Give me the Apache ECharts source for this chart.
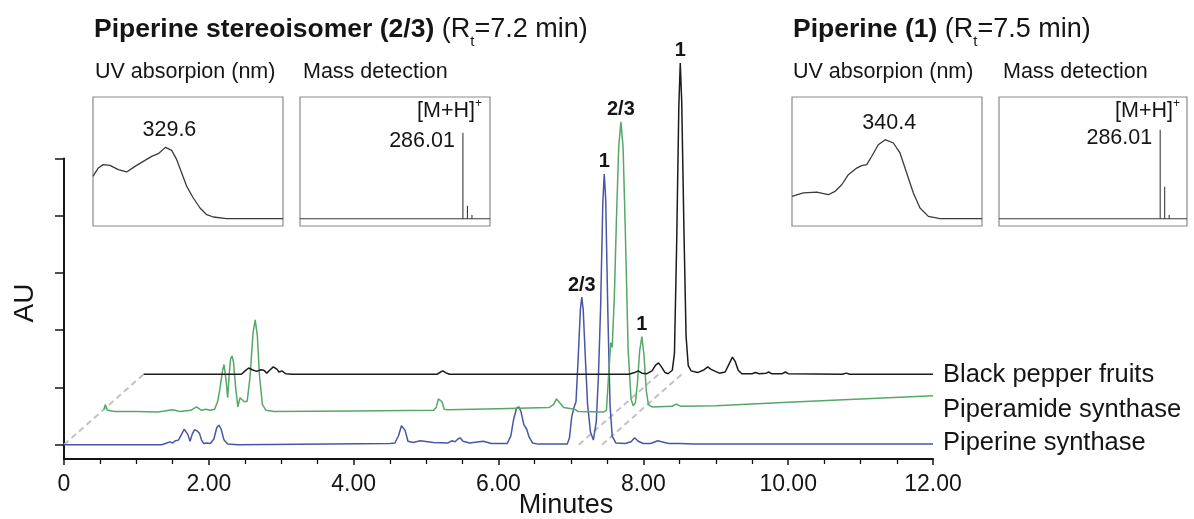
<!DOCTYPE html>
<html>
<head>
<meta charset="utf-8">
<script src="https://cdn.jsdelivr.net/npm/echarts@6/dist/echarts.min.js"></script>
<style>
  html, body { margin: 0; padding: 0; background: #fff; }
  #chart { width: 1194px; height: 519px; }
</style>
</head>
<body>
<div id="chart"></div>
<script>
// ---------- data ----------
const xTickValues = [0, 2, 4, 6, 8, 10, 12];
const xTickLabels = ['0', '2.00', '4.00', '6.00', '8.00', '10.00', '12.00'];
const yTickValues = [0, 1, 2, 3, 4, 5];

const sampleNames = ['Piperine synthase', 'Piperamide synthase', 'Black pepper fruits'];

// [retention time (min), absorbance (AU)] for each sample
const piperineSynthase = [
  [0.00,0.00],[1.35,0.00],[1.42,0.03],[1.46,0.05],[1.50,0.03],[1.54,0.07],[1.58,0.08],[1.62,0.17],
  [1.66,0.27],[1.68,0.28],[1.71,0.18],[1.74,0.06],[1.77,0.18],[1.80,0.26],[1.83,0.25],[1.87,0.20],
  [1.90,0.08],[1.93,0.02],[1.97,0.03],[2.02,0.02],[2.07,0.10],[2.11,0.30],[2.14,0.34],[2.17,0.27],
  [2.21,0.08],[2.26,0.01],[2.40,0.00],[4.50,0.02],[4.57,0.03],[4.62,0.16],[4.66,0.33],[4.68,0.35],
  [4.71,0.25],[4.75,0.06],[4.82,0.04],[4.92,0.07],[5.10,0.04],[5.30,0.03],[5.36,0.07],[5.40,0.05],
  [5.44,0.10],[5.47,0.12],[5.51,0.06],[5.60,0.03],[5.79,0.06],[5.90,0.02],[6.12,0.02],[6.17,0.15],
  [6.21,0.45],[6.25,0.64],[6.28,0.66],[6.31,0.58],[6.35,0.35],[6.39,0.27],[6.42,0.14],[6.47,0.03],
  [6.55,0.01],[6.95,0.01],[6.98,0.12],[7.01,0.48],[7.04,0.64],[7.07,0.75],[7.10,1.50],[7.13,2.35],
  [7.15,2.58],[7.17,2.35],[7.20,1.50],[7.23,0.70],[7.27,0.22],[7.31,0.08],[7.35,0.40],[7.38,1.20],
  [7.41,2.40],[7.44,4.20],[7.46,4.73],[7.48,4.30],[7.51,2.30],[7.54,0.70],[7.57,0.15],[7.62,0.03],
  [7.75,0.02],[7.83,0.05],[7.88,0.12],[7.93,0.06],[8.00,0.02],[8.10,0.02],[8.20,0.07],[8.25,0.05],
  [8.35,0.02],[8.50,0.02],[8.70,0.01],[12.00,0.01]
];

const piperamideSynthase = [
  [0.00,0.00],[0.02,0.09],[0.05,-0.01],[0.15,-0.03],[0.45,-0.03],[0.75,-0.04],[0.90,-0.01],[0.95,0.00],
  [1.05,-0.03],[1.20,-0.01],[1.28,0.05],[1.35,-0.01],[1.41,0.01],[1.47,-0.01],[1.53,0.01],[1.57,0.14],
  [1.60,0.34],[1.64,0.69],[1.66,0.79],[1.69,0.49],[1.71,0.21],[1.73,0.59],[1.75,0.89],[1.77,0.94],
  [1.79,0.84],[1.82,0.39],[1.85,0.05],[1.88,0.21],[1.90,0.23],[1.94,0.14],[1.98,0.15],[2.02,0.59],
  [2.06,1.34],[2.09,1.57],[2.12,1.29],[2.15,0.59],[2.19,0.09],[2.24,-0.01],[2.35,-0.03],[3.45,-0.02],
  [4.55,-0.01],[4.59,0.04],[4.62,0.19],[4.64,0.21],[4.67,0.14],[4.70,0.01],[4.75,0.00],[5.45,0.02],
  [6.15,0.04],[6.21,0.09],[6.25,0.19],[6.29,0.13],[6.35,0.04],[6.50,0.01],[6.55,-0.03],[6.90,-0.04],
  [6.94,-0.01],[6.97,0.59],[7.00,1.17],[7.02,1.09],[7.05,1.99],[7.08,3.39],[7.11,4.59],[7.14,5.03],
  [7.17,4.59],[7.20,3.19],[7.24,1.05],[7.28,0.19],[7.31,0.07],[7.34,0.12],[7.37,0.49],[7.40,1.04],
  [7.43,1.28],[7.46,0.94],[7.49,0.34],[7.52,0.09],[7.57,0.05],[7.85,0.06],[7.90,0.10],[7.97,0.06],
  [8.45,0.07],[9.45,0.13],[10.45,0.19],[11.45,0.245]
];

const blackPepperFruits = [
  [0.00,0.00],[0.01,0.03],[0.03,0.00],[0.90,0.00],[1.35,0.00],[1.40,0.06],[1.45,0.11],[1.50,0.08],
  [1.56,0.05],[1.62,0.08],[1.66,0.07],[1.70,0.02],[1.74,0.07],[1.79,0.13],[1.84,0.09],[1.87,0.04],
  [1.91,0.06],[1.96,0.01],[2.05,0.00],[4.05,0.00],[4.10,0.04],[4.13,0.06],[4.17,0.03],[4.22,0.00],
  [6.70,0.00],[6.78,0.03],[6.83,0.06],[6.88,0.02],[6.95,0.01],[7.02,0.06],[7.07,0.16],[7.11,0.20],
  [7.15,0.13],[7.20,0.03],[7.24,0.01],[7.30,0.07],[7.33,0.37],[7.36,2.27],[7.39,4.67],[7.41,5.44],
  [7.43,4.77],[7.46,2.57],[7.49,0.67],[7.52,0.15],[7.56,0.06],[7.65,0.03],[7.74,0.08],[7.79,0.13],
  [7.83,0.09],[7.88,0.06],[7.95,0.02],[8.03,0.04],[8.08,0.17],[8.13,0.30],[8.17,0.22],[8.21,0.07],
  [8.26,0.01],[8.40,0.01],[8.45,0.03],[8.50,0.01],[8.60,0.02],[8.63,0.04],[8.67,0.01],[8.82,0.01],
  [8.86,0.04],[8.90,0.01],[9.65,0.00],[9.70,0.02],[9.75,0.00],[10.90,0.00]
];

// [sample index, retention time (min), compound]
const peakLabels = [
  [0, 7.15, '2/3'], [0, 7.46, '1'],
  [1, 7.14, '2/3'], [1, 7.43, '1'],
  [2, 7.41, '1']
];

// retention times joined across the stacked traces by dashed guides
const guideTimes = [0, 7.11, 7.43];

// UV spectra: [wavelength (nm), relative absorbance]
const uvStereoisomer = [
  [200,0.348],[209.5,0.417],[218.4,0.444],[230.4,0.438],[245.3,0.403],[260.3,0.384],[275.2,0.430],
  [290,0.471],[305,0.512],[316.9,0.534],[329.6,0.586],[340.8,0.561],[349.8,0.485],[358.7,0.376],
  [367.7,0.266],[379.5,0.170],[391.5,0.088],[403.5,0.033],[415.3,0.014],[439.2,0.000],[540,0.000]
];
const uvPiperine = [
  [230,0.183],[243.4,0.212],[259.3,0.218],[273,0.197],[281,0.225],[288.9,0.279],[296.7,0.362],
  [306.6,0.416],[312.5,0.436],[318.5,0.444],[324.4,0.513],[332.2,0.608],[340.4,0.649],[350,0.622],
  [357.9,0.540],[365.8,0.376],[373.7,0.211],[381.6,0.088],[391.5,0.019],[405.3,0.000],[455,0.000]
];

// mass spectra: [m/z, relative intensity]
const msStereoisomer = [[286.01, 0.707], [287.01, 0.107], [288.01, 0.030]];
const msPiperine = [[286.01, 0.730], [287.01, 0.263], [288.01, 0.030]];

// ---------- layout & style ----------
const FONT = '"Liberation Sans", Arial, Helvetica, sans-serif';
const INK = '#151515';

// horizontal / vertical shift of each trace in the stacked view
const stackShift = [{ dx: 0, dy: 0 }, { dx: 0.55, dy: 0.61 }, { dx: 1.10, dy: 1.23 }];
const traceColors = ['#4757a5', '#56a866', '#1c1c1c'];
const traces = [piperineSynthase, piperamideSynthase, blackPepperFruits];

const shifted = traces.map((tr, i) =>
  tr.map(([t, v]) => [t + stackShift[i].dx, v + stackShift[i].dy]));

const topShift = stackShift[2];

const insetBoxes = [
  { left: 93, top: 97, width: 190, height: 129 },
  { left: 300, top: 97, width: 190, height: 129 },
  { left: 792, top: 97, width: 190, height: 129 },
  { left: 999, top: 97, width: 188, height: 129 }
];
const uvRanges = [[200, 540], [230, 455]];
const msRange = [250, 292];

function stickSpectrum(peaks) {
  const pts = [[msRange[0], 0]];
  peaks.forEach(([mz, h]) => { pts.push([mz, 0], [mz, h], [mz, 0]); });
  pts.push([msRange[1], 0]);
  return pts;
}

const chart = echarts.init(document.getElementById('chart'), null, { renderer: 'canvas' });

const grids = [
  { left: 64, right: 261, top: 158.5, bottom: 60, show: false }
].concat(insetBoxes.map(b => ({
  left: b.left, top: b.top, width: b.width, height: b.height,
  show: true, borderColor: '#8a8a8a', borderWidth: 1.2, backgroundColor: 'transparent'
})));

const xAxes = [{
  type: 'value', gridIndex: 0, min: 0, max: 12, interval: 2,
  axisLine: { show: true, onZero: false, lineStyle: { color: INK, width: 2 } },
  axisTick: { show: true, length: 6, lineStyle: { color: INK, width: 1.5 } },
  minorTick: { show: true, splitNumber: 4, length: 5, lineStyle: { color: INK, width: 1.3 } },
  splitLine: { show: false },
  axisLabel: {
    fontFamily: FONT, fontSize: 23, color: INK, margin: 14,
    formatter: v => { const i = xTickValues.indexOf(v); return i >= 0 ? xTickLabels[i] : ''; }
  }
}];
const yAxes = [{
  type: 'value', gridIndex: 0, min: -0.25, max: 5,
  axisLine: { show: true, onZero: false, lineStyle: { color: INK, width: 2 } },
  axisTick: { show: true, length: 9, customValues: yTickValues, lineStyle: { color: INK, width: 1.5 } },
  axisLabel: { show: false },
  splitLine: { show: false }
}];
[uvRanges[0], msRange, uvRanges[1], msRange].forEach((r, i) => {
  xAxes.push({ type: 'value', gridIndex: i + 1, min: r[0], max: r[1], show: false, splitLine: { show: false } });
  yAxes.push({ type: 'value', gridIndex: i + 1, min: -0.06, max: 1, show: false, splitLine: { show: false } });
});

const series = [];
guideTimes.forEach(t => {
  series.push({
    type: 'line', xAxisIndex: 0, yAxisIndex: 0, silent: true, symbol: 'none', clip: false, z: 1,
    data: [[t, 0], [t + topShift.dx, topShift.dy]],
    lineStyle: { color: '#c2c2c2', width: 2, type: [6, 4] }
  });
});
shifted.forEach((data, i) => {
  series.push({
    name: sampleNames[i], type: 'line', xAxisIndex: 0, yAxisIndex: 0,
    data, symbol: 'none', clip: false, z: 2 + i, animation: false,
    lineStyle: { color: traceColors[i], width: 1.5 }
  });
});
[uvStereoisomer, stickSpectrum(msStereoisomer), uvPiperine, stickSpectrum(msPiperine)].forEach((data, i) => {
  series.push({
    type: 'line', xAxisIndex: i + 1, yAxisIndex: i + 1, data, symbol: 'none', animation: false,
    lineStyle: { color: '#3a3a3a', width: i % 2 ? 1.1 : 1.3 }
  });
});

chart.setOption({
  animation: false,
  backgroundColor: '#ffffff',
  grid: grids,
  xAxis: xAxes,
  yAxis: yAxes,
  series
});

// ---------- text ----------
function txt(x, y, text, opts) {
  return {
    type: 'text', x, y, silent: true, z: 50,
    style: Object.assign({
      text, fill: INK, fontFamily: FONT, fontSize: 21.5,
      align: 'left', verticalAlign: 'middle'
    }, opts || {})
  };
}

const titleRich = {
  b: { fontWeight: 'bold', fontSize: 26.5, lineHeight: 38, fontFamily: FONT, fill: INK },
  n: { fontSize: 27, lineHeight: 38, fontFamily: FONT, fill: INK },
  s: { fontSize: 15, lineHeight: 15, verticalAlign: 'bottom', fontFamily: FONT, fill: INK }
};
const ionRich = {
  n: { fontSize: 21.5, lineHeight: 26, fontFamily: FONT, fill: INK },
  p: { fontSize: 12, lineHeight: 12, verticalAlign: 'top', fontFamily: FONT, fill: INK }
};

const graphics = [
  txt(94, 11, '{b|Piperine stereoisomer (2/3)}{n| (R}{s|t}{n|=7.2 min)}', { verticalAlign: 'top', rich: titleRich }),
  txt(793, 11, '{b|Piperine (1)}{n| (R}{s|t}{n|=7.5 min)}', { verticalAlign: 'top', rich: titleRich }),
  txt(95, 72, 'UV absorpion (nm)'),
  txt(303, 72, 'Mass detection'),
  txt(793, 72, 'UV absorpion (nm)'),
  txt(1003, 72, 'Mass detection'),
  txt(482, 98, '{n|[M+H]}{p|+}', { align: 'right', verticalAlign: 'top', rich: ionRich }),
  txt(1180, 98, '{n|[M+H]}{p|+}', { align: 'right', verticalAlign: 'top', rich: ionRich }),
  txt(943, 375, sampleNames[2], { fontSize: 25.5 }),
  txt(943, 410, sampleNames[1], { fontSize: 25.5 }),
  txt(943, 443, sampleNames[0], { fontSize: 25.5 }),
  txt(566, 506, 'Minutes', { fontSize: 27, align: 'center' }),
  {
    type: 'text', x: 25, y: 303, rotation: Math.PI / 2, silent: true, z: 50,
    style: { text: 'AU', fill: INK, fontFamily: FONT, fontSize: 28, align: 'center', verticalAlign: 'middle' }
  }
];

// compound labels above the peaks
function peakOf(data, t0, win) {
  let best = null;
  data.forEach(p => { if (Math.abs(p[0] - t0) <= win && (!best || p[1] > best[1])) best = p; });
  return best;
}
peakLabels.forEach(([si, rt, name]) => {
  const p = peakOf(traces[si], rt, 0.05);
  const px = chart.convertToPixel({ gridIndex: 0 }, [p[0] + stackShift[si].dx, p[1] + stackShift[si].dy]);
  graphics.push(txt(px[0], px[1] - 2, name, { fontWeight: 'bold', fontSize: 20, align: 'center', verticalAlign: 'bottom' }));
});

// wavelength of maximum absorbance and base-peak m/z in the insets
[[uvStereoisomer, 1], [uvPiperine, 3]].forEach(([data, g]) => {
  const p = data.reduce((a, b) => (b[1] > a[1] ? b : a));
  const px = chart.convertToPixel({ gridIndex: g }, p);
  graphics.push(txt(px[0] + 4, px[1] - 6, p[0].toFixed(1), { align: 'center', verticalAlign: 'bottom' }));
});
[[msStereoisomer, 2], [msPiperine, 4]].forEach(([data, g]) => {
  const p = data.reduce((a, b) => (b[1] > a[1] ? b : a));
  const px = chart.convertToPixel({ gridIndex: g }, p);
  graphics.push(txt(px[0] - 8, px[1] + 8, p[0].toFixed(2), { align: 'right', verticalAlign: 'middle' }));
});

chart.setOption({ graphic: graphics });
</script>
</body>
</html>
